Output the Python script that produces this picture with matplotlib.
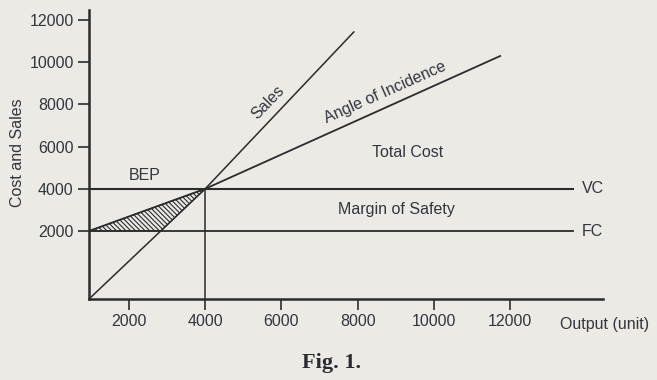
import numpy as np
import matplotlib.pyplot as plt

# values (units on both axes)
x_ticks = [2000, 4000, 6000, 8000, 10000, 12000]
y_ticks = [2000, 4000, 6000, 8000, 10000, 12000]
sales_x = [950, 4000, 7900]
sales_y = [-1220, 4000, 11430]
cost_x = [950, 4000, 11740]
cost_y = [2000, 4000, 10290]
bep = (4000, 4000)
fixed_cost = 2000
var_cost = 4000
hline_end = 13650

ink = "#2b2b2e"
txt = "#33353f"
bg = "#ebeae5"

plt.rcParams['font.family'] = ['Liberation Sans', 'DejaVu Sans']
plt.rcParams['hatch.linewidth'] = 0.8

fig = plt.figure(figsize=(6.57, 3.80), dpi=100, facecolor=bg)
ax = fig.add_axes([89/657, 1-299/380, (603-89)/657, (299-10)/380])
ax.set_facecolor(bg)

ax.set_xlim(950, 14440)
ax.set_ylim(-1220, 12470)

# lines
ax.plot(sales_x, sales_y, color=ink, lw=1.1)
ax.plot(cost_x, cost_y, color=ink, lw=1.3)
ax.plot([950, hline_end], [var_cost, var_cost], color=ink, lw=1.5)
ax.plot([950, hline_end], [fixed_cost, fixed_cost], color=ink, lw=1.3)
ax.plot([bep[0], bep[0]], [-1220, bep[1]], color=ink, lw=1.1)

# hatched loss triangle
cross_x = np.interp(fixed_cost, sales_y, sales_x)
ax.fill([cost_x[0], bep[0], cross_x], [fixed_cost, bep[1], fixed_cost],
        facecolor="none", edgecolor=ink, hatch="\\\\\\\\\\\\\\", lw=0.8)

# spines and ticks
for s in ["top", "right"]:
    ax.spines[s].set_visible(False)
for s in ["left", "bottom"]:
    ax.spines[s].set_linewidth(1.8)
    ax.spines[s].set_color(ink)
ax.set_xticks(x_ticks)
ax.set_yticks(y_ticks)
ax.tick_params(axis="both", direction="out", length=8, width=1.2, color=ink,
               labelsize=11.5, labelcolor=txt, pad=3)

# labels
fs = 11.5
ax.text(5650, 8110, "Sales", rotation=46, ha="center", va="center", fontsize=fs, color=txt)
ax.text(8720, 8590, "Angle of Incidence", rotation=24, ha="center", va="center", fontsize=fs, color=txt)
ax.text(9300, 5700, "Total Cost", ha="center", va="center", fontsize=fs, color=txt)
ax.text(2420, 4650, "BEP", ha="center", va="center", fontsize=fs, color=txt)
ax.text(9030, 3000, "Margin of Safety", ha="center", va="center", fontsize=fs, color=txt)
ax.text(13890, var_cost, "VC", ha="left", va="center", fontsize=fs, color=txt)
ax.text(13890, fixed_cost, "FC", ha="left", va="center", fontsize=fs, color=txt)

fig.text(560/657, 1-324/380, "Output (unit)", ha="left", va="center", fontsize=fs, color=txt)
fig.text(18/657, 1-153/380, "Cost and Sales", rotation=90, ha="center", va="center", fontsize=fs, color=txt)
fig.text(332/657, 1-363/380, "Fig. 1.", ha="center", va="center", fontsize=16,
         fontweight="bold", family=["Liberation Serif", "DejaVu Serif"], color="#2a2a30")

fig.savefig("out.png", dpi=100, facecolor=bg)
